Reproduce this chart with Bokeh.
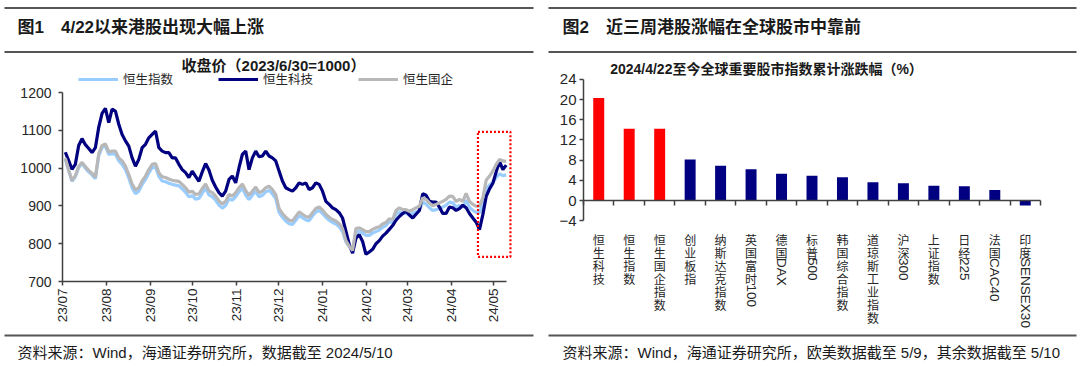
import math
import re
import pandas as pd
from bokeh.plotting import figure
from bokeh.models import (Range1d, FixedTicker, MonthsTicker, DatetimeTickFormatter,
                          Label, Legend, LegendItem, BoxAnnotation, ColumnDataSource,
                          DatetimeAxis, LinearAxis)
from bokeh.core.properties import value
from bokeh.embed import file_html
from bokeh.resources import INLINE

# ---------------- data: figure 1 (closing price, 2023/6/30 = 1000) ----------------
line_start = "2023-07-03"
line_end = "2024-05-10"
series_names = ["恒生指数", "恒生科技", "恒生国企"]

hsi = [1025, 993, 965, 977, 1002, 1012, 1000, 990, 982, 972,
       1033, 1055, 1058, 1036, 1038, 1037, 1019, 1010, 996, 974,
       948, 932, 939, 957, 970, 987, 1001, 1003, 978, 966,
       964, 960, 957, 955, 953, 945, 936, 924, 927, 918,
       920, 934, 947, 929, 924, 915, 902, 894, 901, 919,
       915, 924, 937, 947, 929, 917, 928, 939, 924, 928,
       937, 941, 932, 919, 883, 870, 860, 853, 851, 862,
       874, 869,
       863, 861, 873, 884, 888, 880, 870, 862, 856, 852,
       845, 832, 805, 792, 783, 830, 833, 828, 822, 822,
       828, 832, 836, 843, 848, 858, 856, 878, 884, 880,
       880, 877, 880, 884, 888, 910, 905, 895, 888, 890,
       893, 897, 902, 910, 908, 897, 901, 896, 915, 896,
       888, 883, 882, 905, 945, 955, 962, 975, 985, 980,
       982]

hstech = [1042, 1020, 997, 1010, 1060, 1078, 1062, 1052, 1041, 1054,
          1108, 1145, 1158, 1120, 1156, 1151, 1116, 1089, 1072, 1058,
          1027, 1005, 1023, 1054, 1063, 1080, 1089, 1098, 1054, 1045,
          1041, 1041, 1027, 1027, 1010, 996, 988, 975, 992, 978,
          965, 990, 1012, 995, 968, 950, 935, 926, 939, 970,
          979, 961, 1001, 1036, 1045, 996, 1027, 1045, 1030, 1032,
          1045, 1032, 1027, 1019, 992, 966, 948, 943, 939, 948,
          961, 957,
          961, 943, 948, 961, 957, 939, 912, 904, 895, 890,
          882, 868, 833, 798, 775, 815, 824, 806, 772, 778,
          785, 800, 808, 820, 828, 838, 848, 862, 872, 880,
          886, 876, 868, 878, 888, 932, 928, 912, 910, 910,
          897, 880, 880, 897, 895, 888, 893, 902, 895, 880,
          868, 857, 837, 877, 925, 945, 960, 990, 1018, 996,
          1008]

hscei = [1026, 995, 967, 980, 1005, 1015, 1004, 994, 986, 976,
         1038, 1060, 1064, 1043, 1045, 1045, 1027, 1019, 1005, 983,
         958, 942, 948, 966, 979, 996, 1010, 1012, 988, 977,
         975, 971, 968, 966, 965, 957, 948, 936, 939, 930,
         932, 946, 958, 940, 935, 926, 913, 905, 912, 930,
         926, 935, 948, 958, 940, 928, 939, 950, 935, 939,
         948, 952, 943, 930, 893, 880, 870, 862, 860, 872,
         884, 878,
         872, 870, 882, 893, 897, 889, 878, 870, 864, 860,
         853, 840, 808, 793, 782, 840, 842, 837, 832, 832,
         838, 842, 845, 852, 856, 866, 864, 888, 895, 890,
         890, 886, 890, 895, 899, 921, 917, 908, 900, 904,
         908, 912, 917, 926, 925, 912, 917, 912, 933, 912,
         904, 899, 900, 921, 968, 979, 992, 1010, 1023, 1019,
         1018]

y1_ticks = [700, 800, 900, 1000, 1100, 1200]
axis1_start = "2023-07-01"
highlight_box = ("2024-04-20", "2024-05-13", 765, 1096)   # left, right, bottom, top

# ---------------- data: figure 2 (cumulative change since 2024/4/22, %) ----------------
bar_categories = ["恒生科技", "恒生指数", "恒生国企指数", "创业板指", "纳斯达克指数",
                  "英国富时100", "德国DAX", "标普500", "韩国综合指数", "道琼斯工业指数",
                  "沪深300", "上证指数", "日经225", "法国CAC40", "印度SENSEX30"]
bar_values = [20.3, 14.2, 14.2, 8.1, 6.9, 6.2, 5.3, 4.9, 4.6, 3.6, 3.4, 2.9, 2.8, 2.1, -1.0]
hk_categories = {"恒生科技", "恒生指数", "恒生国企指数"}
y2_ticks = [-4, 0, 4, 8, 12, 16, 20, 24]

header1_text = "图1\u30004/22以来港股出现大幅上涨"
header2_text = "图2\u3000近三周港股涨幅在全球股市中靠前"
chart1_title = "收盘价（2023/6/30=1000）"
chart2_title = "2024/4/22至今全球重要股市指数累计涨跌幅（%）"
source1_text = "资料来源：Wind，海通证券研究所，数据截至 2024/5/10"
source2_text = "资料来源：Wind，海通证券研究所，欧美数据截至 5/9，其余数据截至 5/10"

# ---------------- style / page geometry (pixels) ----------------
W, H = 1080, 366
CJK = "Noto Sans CJK SC"
LAT = "Liberation Sans"
MIX = "'Liberation Sans', 'Noto Sans CJK SC'"
RULE = "#555555"
AXIS = "#404040"
TXT = "#262626"
C_HSI = "#99CCFF"
C_TECH = "#000080"
C_CEI = "#B8B8B8"
C_RED = "#FF0000"
C_NAVY = "#000080"

# panel 1 plot mapping: date axis (2023-07-01 at px 62, 2024-05-01 at px 493), value axis (1200 at px 92, 700 at px 281)
P1_DATE_A, P1_PX_A = "2023-07-01", 62.0
P1_DATE_B, P1_PX_B = "2024-05-01", 493.0
P1_VAL_TOP_PX, P1_VAL_BOT_PX = 92.0, 281.0
# panel 2 plot mapping: categories 0..N on px 583..1040, values: 0 at px 200, 20 at px 99
P2_X0_PX, P2_X1_PX = 583.0, 1040.0
P2_ZERO_PX, P2_20_PX = 200.0, 99.0


def to_ms(s):
    return pd.Timestamp(s).value / 1e6


# ranges derived from the geometry
ms_a, ms_b = to_ms(P1_DATE_A), to_ms(P1_DATE_B)
ms_per_px = (ms_b - ms_a) / (P1_PX_B - P1_PX_A)
date_range = Range1d(ms_a - P1_PX_A * ms_per_px, ms_a + (W - P1_PX_A) * ms_per_px)
v_per_px = (y1_ticks[-1] - y1_ticks[0]) / (P1_VAL_BOT_PX - P1_VAL_TOP_PX)
val_range = Range1d(y1_ticks[0] - (H - P1_VAL_BOT_PX) * v_per_px,
                    y1_ticks[-1] + P1_VAL_TOP_PX * v_per_px)

n = len(bar_categories)
c_per_px = n / (P2_X1_PX - P2_X0_PX)
cat_range = Range1d(-P2_X0_PX * c_per_px, n + (W - P2_X1_PX) * c_per_px)
p_per_px = 20.0 / (P2_ZERO_PX - P2_20_PX)
pct_range = Range1d(-(H - P2_ZERO_PX) * p_per_px, P2_ZERO_PX * p_per_px)

p = figure(width=W, height=H, x_range=Range1d(0, W), y_range=Range1d(H, 0),
           x_axis_type=None, y_axis_type=None, toolbar_location=None,
           output_backend="svg", min_border=0, outline_line_color=None)
p.extra_x_ranges = {"date": date_range, "cat": cat_range}
p.extra_y_ranges = {"val": val_range, "pct": pct_range}

# ---------------- decorations: rules, headers, sources ----------------
rules = ColumnDataSource(dict(x0=[4, 4, 4, 548, 548, 548],
                              x1=[533, 533, 533, 1076, 1076, 1076],
                              y=[7.5, 51.5, 335, 7.5, 51.5, 335]))
p.segment(x0="x0", y0="y", x1="x1", y1="y", source=rules, line_color=RULE, line_width=2)

for txt, x in ((header1_text, 17), (header2_text, 562)):
    p.add_layout(Label(x=x, y=27, text=txt, text_font=MIX, text_font_size="17px",
                       text_font_style="bold", text_baseline="middle", text_color="#1a1a1a"))
for txt, x in ((source1_text, 17), (source2_text, 562)):
    p.add_layout(Label(x=x, y=352, text=txt, text_font=MIX, text_font_size="15px",
                       text_baseline="middle", text_color="#1a1a1a"))

p.add_layout(Label(x=273, y=65, text=chart1_title, text_font=MIX, text_font_size="15px",
                   text_font_style="bold", text_align="center", text_baseline="middle",
                   text_color="#1a1a1a"))
p.add_layout(Label(x=766, y=68, text=chart2_title, text_font=MIX, text_font_size="14px",
                   text_font_style="bold", text_align="center", text_baseline="middle",
                   text_color="#1a1a1a"))


def style_axis(ax, size):
    ax.axis_line_color = AXIS
    ax.axis_line_width = 1.5
    ax.major_tick_line_color = AXIS
    ax.major_tick_line_width = 1.5
    ax.major_tick_out = 4
    ax.major_tick_in = 0
    ax.minor_tick_line_color = None
    ax.major_label_text_font = LAT
    ax.major_label_text_font_size = size
    ax.major_label_text_color = TXT


# ---------------- figure 1: lines ----------------
dates = pd.date_range(line_start, line_end, periods=len(hsi))
src1 = ColumnDataSource(dict(date=dates, hsi=hsi, hstech=hstech, hscei=hscei))
kw1 = dict(source=src1, x_range_name="date", y_range_name="val", line_width=3.2)
r_hsi = p.line("date", "hsi", line_color=C_HSI, **kw1)
r_tech = p.line("date", "hstech", line_color=C_TECH, **kw1)
r_cei = p.line("date", "hscei", line_color=C_CEI, **kw1)

p.add_layout(BoxAnnotation(left=to_ms(highlight_box[0]), right=to_ms(highlight_box[1]),
                           bottom=highlight_box[2], top=highlight_box[3],
                           x_range_name="date", y_range_name="val",
                           fill_color=None, fill_alpha=0, line_color=C_RED, line_alpha=1.0,
                           line_width=2.2, line_dash="2 2"))

legend = Legend(items=[LegendItem(label=nm, renderers=[r])
                       for nm, r in zip(series_names, [r_hsi, r_tech, r_cei])],
                orientation="horizontal", location=(78, H - 81 - 7),
                background_fill_alpha=0, border_line_color=None,
                padding=0, margin=0, spacing=45, glyph_width=40, glyph_height=14,
                label_height=14, label_standoff=5,
                label_text_font=CJK, label_text_font_size="12.5px", label_text_color=TXT)
p.add_layout(legend)

ax1 = DatetimeAxis(x_range_name="date", y_range_name="val", fixed_location=y1_ticks[0])
style_axis(ax1, "13.5px")
ax1.ticker = MonthsTicker(months=list(range(12)))
ax1.formatter = DatetimeTickFormatter(days="%y/%m", months="%y/%m", years="%y/%m")
ax1.major_label_orientation = math.pi / 2
ax1.major_label_standoff = 3
ax1.bounds = (to_ms(axis1_start), to_ms(line_end))
p.add_layout(ax1, "below")

ay1 = LinearAxis(x_range_name="date", y_range_name="val", fixed_location=to_ms(axis1_start))
style_axis(ay1, "14px")
ay1.ticker = FixedTicker(ticks=y1_ticks)
ay1.bounds = (y1_ticks[0], y1_ticks[-1])
ay1.major_label_standoff = 7
p.add_layout(ay1, "left")

# ---------------- figure 2: bars ----------------
xc = [i + 0.5 for i in range(n)]
colors = [C_RED if c in hk_categories else C_NAVY for c in bar_categories]
CN_SIZE, CN_STEP = 12, 13.2
cn_part, en_part, en_off = [], [], []
for c in bar_categories:
    m = re.match(r"([^\x00-\x7f]*)(.*)", c)
    cn_part.append("\n".join(m.group(1)))
    en_part.append(m.group(2))
    en_off.append(11 + len(m.group(1)) * CN_STEP)

src2 = ColumnDataSource(dict(x=xc, v=bar_values, color=colors, cn=cn_part, en=en_part,
                             en_off=en_off, ybase=[y2_ticks[0]] * n))
kw2 = dict(source=src2, x_range_name="cat", y_range_name="pct")

p.vbar(x="x", top="v", bottom=0, width=0.36, fill_color="color", line_color=None, **kw2)

p.text(x="x", y="ybase", text="cn", text_align="center", text_baseline="top",
       y_offset=10, text_font=value(CJK), text_font_size=value(f"{CN_SIZE}px"),
       text_line_height=CN_STEP / (CN_SIZE * 1.44), text_color=TXT, **kw2)
p.text(x="x", y="ybase", text="en", angle=-math.pi / 2,
       text_align="left", text_baseline="middle", y_offset="en_off",
       text_font=value(LAT), text_font_size=value("13.5px"), text_color=TXT, **kw2)

ax2 = LinearAxis(x_range_name="cat", y_range_name="pct", fixed_location=0)
style_axis(ax2, "14px")
ax2.ticker = FixedTicker(ticks=list(range(n + 1)))
ax2.major_label_text_color = None
ax2.major_tick_out = 5
ax2.bounds = (0, n)
p.add_layout(ax2, "below")

ay2 = LinearAxis(x_range_name="cat", y_range_name="pct", fixed_location=0)
style_axis(ay2, "15px")
ay2.ticker = FixedTicker(ticks=y2_ticks)
ay2.bounds = (y2_ticks[0], y2_ticks[-1])
ay2.major_label_standoff = 3
p.add_layout(ay2, "left")

open("out.html", "w").write(file_html(p, INLINE, title="chart"))
